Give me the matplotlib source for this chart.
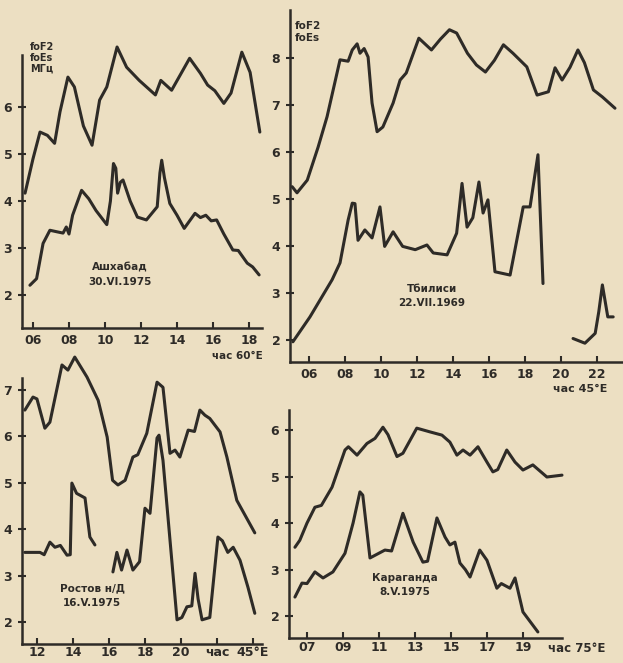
import matplotlib.pyplot as plt

# --- Ашхабад 30.VI.1975 ---
ash_f2_h = [5.56, 6.0, 6.39, 6.8, 7.2, 7.5, 7.94, 8.3, 8.8, 9.28, 9.7, 10.1, 10.67, 11.2, 11.9, 12.8, 13.1,
            13.7, 14.2, 14.7, 15.3, 15.7, 16.1, 16.6, 17.0, 17.6, 18.06, 18.6]
ash_f2_v = [4.17, 4.9, 5.47, 5.4, 5.23, 5.9, 6.64, 6.43, 5.6, 5.19, 6.15, 6.43, 7.28, 6.85, 6.57, 6.26, 6.57,
            6.36, 6.7, 7.04, 6.72, 6.47, 6.35, 6.08, 6.3, 7.17, 6.74, 5.47]
ash_es_h = [5.83, 6.2, 6.56, 6.94, 7.3, 7.67, 7.85, 8.0, 8.2, 8.7, 9.1, 9.5, 10.1, 10.3, 10.47, 10.6, 10.7,
            10.85, 11.0, 11.4, 11.8, 12.3, 12.9, 13.05, 13.15, 13.3, 13.6, 14.0, 14.4, 15.0, 15.3, 15.6,
            15.9, 16.2, 16.6, 17.1, 17.4, 17.9, 18.2, 18.56]
ash_es_v = [2.21, 2.35, 3.1, 3.38, 3.35, 3.32, 3.45, 3.3, 3.7, 4.23, 4.05, 3.8, 3.5, 4.0, 4.8, 4.7, 4.17,
            4.4, 4.45, 4.0, 3.66, 3.6, 3.88, 4.6, 4.87, 4.5, 3.95, 3.7, 3.42, 3.74, 3.65, 3.7,
            3.58, 3.6, 3.3, 2.96, 2.95, 2.68, 2.6, 2.43]

# --- Тбилиси 22.VII.1969 ---
tbi_f2_h = [5.06, 5.33, 5.9, 6.5, 7.0, 7.72, 8.17, 8.4, 8.67, 8.83, 9.06, 9.28, 9.5, 9.78, 10.1, 10.67,
            11.06, 11.4, 12.1, 12.8, 13.3, 13.8, 14.2, 14.8, 15.3, 15.8, 16.3, 16.8, 17.33, 18.1, 18.67,
            19.3, 19.67, 20.06, 20.5, 20.94, 21.3, 21.8, 22.3, 23.0]
tbi_f2_v = [5.26, 5.13, 5.4, 6.1, 6.75, 7.96, 7.93, 8.17, 8.3, 8.1, 8.2, 8.02, 7.04, 6.43, 6.53, 7.04,
            7.53, 7.68, 8.42, 8.17, 8.4, 8.6, 8.53, 8.1, 7.85, 7.7, 7.95, 8.28, 8.1, 7.81, 7.21,
            7.28, 7.79, 7.53, 7.8, 8.17, 7.9, 7.32, 7.17, 6.93]
tbi_es_h = [5.1, 6.05, 7.28, 7.72, 8.17, 8.4, 8.55, 8.72, 9.1, 9.5, 9.94, 10.2, 10.67, 11.2, 11.9, 12.55,
            12.9, 13.67, 14.2, 14.5, 14.78, 15.1, 15.44, 15.67, 15.94, 16.33, 17.17, 17.9, 18.28, 18.72, 19.0]
tbi_es_v = [1.96, 2.49, 3.28, 3.64, 4.55, 4.91, 4.9, 4.12, 4.34, 4.17, 4.83, 3.99, 4.3, 3.99, 3.92, 4.02,
            3.85, 3.81, 4.27, 5.33, 4.4, 4.6, 5.36, 4.7, 4.98, 3.45, 3.38, 4.83, 4.83, 5.94, 3.2]
tbi_es2_h = [20.67, 21.33, 21.9, 22.1, 22.3, 22.6, 22.9]
tbi_es2_v = [2.03, 1.93, 2.14, 2.6, 3.17, 2.49, 2.49]

# --- Ростов н/Д 16.V.1975 ---
ros_f2_h = [11.33, 11.78, 12.0, 12.44, 12.72, 13.39, 13.72, 14.1, 14.78, 15.4, 15.9, 16.2, 16.5, 16.9,
            17.33, 17.6, 18.1, 18.67, 19.0, 19.39, 19.67, 19.94, 20.4, 20.75, 21.05, 21.33, 21.6, 22.17,
            22.55, 23.1, 24.1]
ros_f2_v = [6.56, 6.84, 6.8, 6.17, 6.3, 7.53, 7.42, 7.7, 7.27, 6.77, 5.98, 5.05, 4.95, 5.05,
            5.55, 5.6, 6.06, 7.16, 7.05, 5.63, 5.7, 5.55, 6.13, 6.1, 6.56, 6.45, 6.38, 6.09,
            5.55, 4.62, 3.92]
ros_es_h = [11.33, 12.17, 12.4, 12.72, 13.0, 13.3, 13.67, 13.85, 13.94, 14.2, 14.67, 14.94, 15.22]
ros_es_v = [3.5, 3.5, 3.45, 3.72, 3.61, 3.65, 3.44, 3.45, 4.99, 4.77, 4.67, 3.83, 3.66]
ros_es2_h = [16.22, 16.44, 16.7, 17.0, 17.33, 17.7, 18.0, 18.28, 18.67, 18.78, 19.0, 19.78, 20.05, 20.33,
             20.6, 20.78, 20.95, 21.17, 21.6, 22.05, 22.3, 22.6, 22.9, 23.28, 23.72, 24.1]
ros_es2_v = [3.08, 3.5, 3.12, 3.55, 3.12, 3.3, 4.45, 4.34, 5.96, 6.02, 5.48, 2.05, 2.1, 2.33,
             2.35, 3.05, 2.5, 2.05, 2.1, 3.83, 3.75, 3.5, 3.61, 3.33, 2.75, 2.19]

# --- Караганда 8.V.1975 ---
kar_f2_h = [6.33, 6.6, 7.0, 7.44, 7.8, 8.39, 9.11, 9.3, 9.78, 10.33, 10.78, 11.22, 11.5, 12.0, 12.33,
            13.1, 13.83, 14.5, 14.94, 15.33, 15.67, 16.06, 16.5, 17.0, 17.33, 17.6, 18.1, 18.56, 19.0,
            19.55, 20.33, 21.17]
kar_f2_v = [3.48, 3.63, 4.0, 4.34, 4.38, 4.77, 5.57, 5.64, 5.46, 5.71, 5.82, 6.06, 5.9, 5.43, 5.5,
            6.04, 5.96, 5.89, 5.74, 5.46, 5.57, 5.46, 5.64, 5.31, 5.1, 5.15, 5.57, 5.31, 5.14,
            5.25, 4.99, 5.03]
kar_es_h = [6.33, 6.72, 7.0, 7.44, 7.89, 8.44, 9.11, 9.56, 9.94, 10.1, 10.5, 11.33, 11.7, 12.33, 12.9,
            13.44, 13.7, 14.22, 14.67, 14.94, 15.22, 15.5, 15.8, 16.06, 16.6, 17.0, 17.55, 17.8, 18.28,
            18.56, 19.0, 19.83]
kar_es_v = [2.41, 2.71, 2.7, 2.95, 2.82, 2.95, 3.35, 4.0, 4.67, 4.6, 3.25, 3.42, 3.4, 4.21, 3.59,
            3.16, 3.18, 4.11, 3.7, 3.53, 3.59, 3.14, 3.0, 2.84, 3.42, 3.2, 2.6, 2.7, 2.6,
            2.82, 2.09, 1.66]

paper = '#ECDFC2'
ink = '#2E2B27'
W, H = 623, 663

fig = plt.figure(figsize=(W / 100, H / 100), dpi=100, facecolor=paper)


def panel(px0, py0, px1, py1, xlim, ylim, xticks, xlabels, yticks, xpad=5):
    # pixel box -> figure fraction
    ax = fig.add_axes([px0 / W, 1 - py1 / H, (px1 - px0) / W, (py1 - py0) / H])
    ax.set_facecolor('none')
    ax.set_xlim(*xlim)
    ax.set_ylim(*ylim)
    for s in ['top', 'right']:
        ax.spines[s].set_visible(False)
    for s in ['left', 'bottom']:
        ax.spines[s].set_linewidth(1.8)
        ax.spines[s].set_color(ink)
    ax.set_xticks(xticks)
    ax.set_xticklabels(xlabels)
    ax.set_yticks(yticks)
    ax.set_yticklabels([str(t) for t in yticks])
    ax.tick_params(axis='x', direction='in', length=4, width=1.5, color=ink, labelsize=9, pad=xpad)
    ax.tick_params(axis='y', direction='inout', length=6, width=1.5, color=ink, labelsize=9, pad=4)
    for lab in ax.get_xticklabels() + ax.get_yticklabels():
        lab.set_fontweight('bold')
        lab.set_color(ink)
    return ax


def curve(ax, h, v):
    ax.plot(h, v, color=ink, lw=2.2, solid_joinstyle='round', solid_capstyle='round', clip_on=False)


bold = dict(color=ink, fontweight='bold', fontsize=7.5, ha='center', va='center')

# top-left
ax1 = panel(22, 55, 262, 328, (5.39, 18.72), (1.30, 7.11),
            [6, 8, 10, 12, 14, 16, 18], ['06', '08', '10', '12', '14', '16', '18'], [2, 3, 4, 5, 6], xpad=4)
curve(ax1, ash_f2_h, ash_f2_v)
curve(ax1, ash_es_h, ash_es_v)
fig.text(120 / W, 1 - 275 / H, 'Ашхабад\n30.VI.1975', linespacing=1.6, **bold)
fig.text(30 / W, 1 - 58 / H, 'foF2\nfoEs\nМГц', color=ink, fontweight='bold', fontsize=7,
         ha='left', va='center', linespacing=1.1)
fig.text(237 / W, 1 - 356 / H, 'час 60°E', color=ink, fontweight='bold', fontsize=7.5, ha='center', va='center')

# top-right
ax2 = panel(290, 10, 622, 362, (4.94, 23.39), (1.53, 9.02),
            [6, 8, 10, 12, 14, 16, 18, 20, 22], ['06', '08', '10', '12', '14', '16', '18', '20', '22'],
            [2, 3, 4, 5, 6, 7, 8], xpad=4)
curve(ax2, tbi_f2_h, tbi_f2_v)
curve(ax2, tbi_es_h, tbi_es_v)
curve(ax2, tbi_es2_h, tbi_es2_v)
fig.text(432 / W, 1 - 296 / H, 'Тбилиси\n22.VII.1969', linespacing=1.6, **bold)
fig.text(295 / W, 1 - 32 / H, 'foF2\nfoEs', color=ink, fontweight='bold', fontsize=7.5,
         ha='left', va='center', linespacing=1.3)
fig.text(580 / W, 1 - 389 / H, 'час 45°E', color=ink, fontweight='bold', fontsize=8, ha='center', va='center')

# bottom-left
ax3 = panel(22, 378, 262, 644, (11.17, 24.5), (1.53, 7.25),
            [12, 14, 16, 18, 20, 22, 24], ['12', '14', '16', '18', '20', 'час', '45°E'], [2, 3, 4, 5, 6, 7],
            xpad=1.5)
curve(ax3, ros_f2_h, ros_f2_v)
curve(ax3, ros_es_h, ros_es_v)
curve(ax3, ros_es2_h, ros_es2_v)
fig.text(92 / W, 1 - 596 / H, 'Ростов н/Д\n16.V.1975', linespacing=1.6, **bold)

# bottom-right
ax4 = panel(289, 410, 562, 638, (6.0, 21.17), (1.53, 6.43),
            [7, 9, 11, 13, 15, 17, 19], ['07', '09', '11', '13', '15', '17', '19'], [2, 3, 4, 5, 6], xpad=2)
curve(ax4, kar_f2_h, kar_f2_v)
curve(ax4, kar_es_h, kar_es_v)
fig.text(405 / W, 1 - 585 / H, 'Караганда\n8.V.1975', linespacing=1.6, **bold)
fig.text(577 / W, 1 - 648 / H, 'час 75°E', color=ink, fontweight='bold', fontsize=8.5, ha='center', va='center')

fig.savefig('out.png', dpi=100, facecolor=paper)
